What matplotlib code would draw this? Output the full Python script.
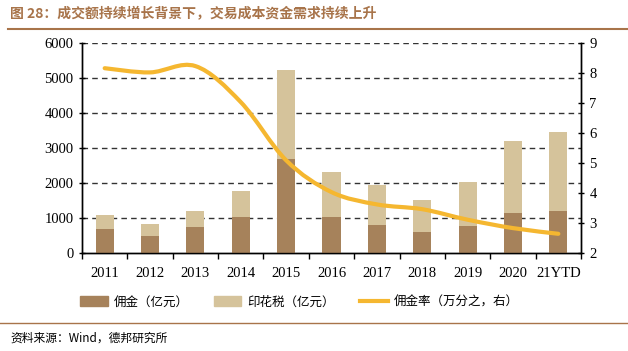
import numpy as np
import matplotlib.pyplot as plt
from matplotlib.path import Path
from matplotlib.patches import PathPatch
from matplotlib.lines import Line2D
from matplotlib.patches import Patch

plt.rcParams['font.family'] = ['Noto Sans CJK SC', 'DejaVu Sans']

years = ["2011", "2012", "2013", "2014", "2015", "2016", "2017", "2018", "2019", "2020", "21YTD"]
commission = [680, 490, 745, 1030, 2690, 1040, 800, 600, 770, 1145, 1190]
stamp_tax = [420, 325, 465, 750, 2530, 1265, 1135, 905, 1270, 2055, 2265]
rate = [8.16, 8.02, 8.23, 7.03, 5.09, 4.03, 3.62, 3.46, 3.11, 2.83, 2.64]

c_comm = "#a6825b"
c_tax = "#d5c39b"
c_line = "#f5b730"
c_title = "#a8744a"
num_font = "Liberation Serif"

fig = plt.figure(figsize=(6.28, 3.51), dpi=100)
ax = fig.add_axes([82 / 628, 1 - 253 / 351, 499 / 628, 210 / 351])
ax2 = ax.twinx()

x = np.arange(len(years))
ax.bar(x, commission, width=0.4, color=c_comm, zorder=3)
ax.bar(x, stamp_tax, width=0.4, bottom=commission, color=c_tax, zorder=3)

ax.set_ylim(0, 6000)
ax.set_yticks(range(0, 6001, 1000))
ax.set_xlim(-0.5, len(years) - 0.5)
ax.set_xticks(x)
ax.set_xticklabels(years)
ax.set_xticks(np.arange(-0.5, len(years)), minor=True)
ax.tick_params(axis='x', which='major', length=0, pad=10)
ax.tick_params(axis='x', which='minor', length=4, direction='out', width=1)
ax.tick_params(axis='y', length=5, direction='inout', width=1)
for v in range(1000, 6001, 1000):
    ax.axhline(v, color="#333333", lw=1, ls=(0, (4, 3)), zorder=1)

ax2.set_ylim(2, 9)
ax2.set_yticks(range(2, 10))
ax2.tick_params(axis='y', length=5, direction='inout', width=1)

# smooth curve through the rate points (Catmull-Rom as bezier)
pts = np.column_stack([x, rate])
verts = [tuple(pts[0])]
codes = [Path.MOVETO]
for i in range(len(pts) - 1):
    p0 = pts[i - 1] if i > 0 else pts[i]
    p1 = pts[i]
    p2 = pts[i + 1]
    p3 = pts[i + 2] if i + 2 < len(pts) else pts[i + 1]
    c1 = p1 + (p2 - p0) / 6
    c2 = p2 - (p3 - p1) / 6
    verts += [tuple(c1), tuple(c2), tuple(p2)]
    codes += [Path.CURVE4] * 3
ax2.add_patch(PathPatch(Path(verts, codes), fill=False, edgecolor=c_line, lw=3, capstyle='round', zorder=4))

for a in (ax, ax2):
    a.spines['top'].set_visible(False)
    for s in ('left', 'right', 'bottom'):
        a.spines[s].set_linewidth(1)
    for lab in a.get_xticklabels() + a.get_yticklabels():
        lab.set_fontfamily(num_font)
        lab.set_fontsize(10.5)

ax.set_zorder(ax2.get_zorder() - 1)
ax2.patch.set_visible(False)

handles = [Patch(color=c_comm), Patch(color=c_tax), Line2D([], [], color=c_line, lw=3)]
labels = ["佣金（亿元）", "印花税（亿元）", "佣金率（万分之，右）"]
fig.legend(handles, labels, loc='center left', bbox_to_anchor=(80 / 628, 1 - 302 / 351),
           ncol=3, frameon=False, fontsize=9, handlelength=2.2, handleheight=0.9,
           columnspacing=2.0, handletextpad=0.5, borderpad=0, borderaxespad=0)

fig.text(10 / 628, 1 - 14 / 351, "图 28：成交额持续增长背景下，交易成本资金需求持续上升",
         color=c_title, fontsize=10, fontweight='bold', va='center')
fig.add_artist(Line2D([8 / 628, 1], [1 - 29 / 351] * 2, color=c_title, lw=1.5))
fig.add_artist(Line2D([0, 1], [1 - 323 / 351] * 2, color=c_title, lw=1))
fig.text(10 / 628, 1 - 338 / 351, "资料来源：Wind，德邦研究所", fontsize=8.5, va='center')

fig.savefig("out.png", dpi=100)
